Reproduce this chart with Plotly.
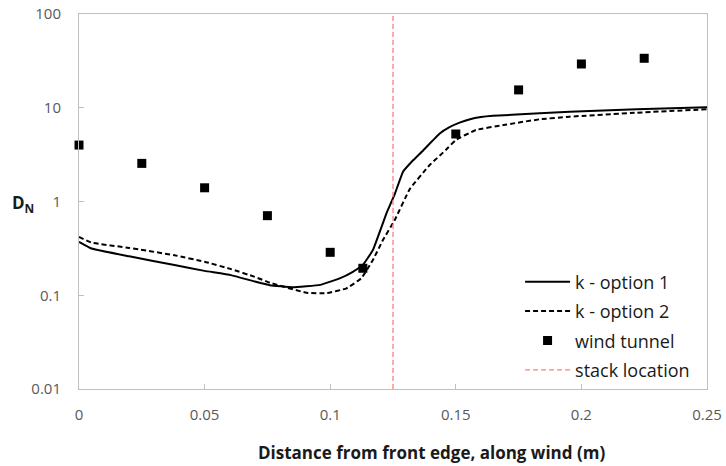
import plotly.graph_objects as go

# Data
x_opt1 = [0.0, 0.005, 0.02, 0.038, 0.05, 0.0605, 0.07, 0.076, 0.085, 0.096, 0.104, 0.109, 0.113, 0.117, 0.1224,
          0.1257, 0.129, 0.133, 0.137, 0.1436, 0.1475, 0.1515, 0.1557, 0.16, 0.1648, 0.1834, 0.1953, 0.222, 0.25]
y_opt1 = [0.372, 0.315, 0.26, 0.21, 0.182, 0.164, 0.14, 0.128, 0.1216, 0.129, 0.152, 0.178, 0.21, 0.304, 0.748,
          1.2, 2.08, 2.75, 3.5, 5.3, 6.2, 6.93, 7.55, 7.95, 8.2, 8.73, 9.08, 9.62, 10.1]

x_opt2 = [0.0, 0.005, 0.02, 0.038, 0.05, 0.0605, 0.07, 0.076, 0.0905, 0.0985, 0.1065, 0.1124, 0.117, 0.121,
          0.1257, 0.1317, 0.1396, 0.146, 0.15, 0.158, 0.169, 0.1834, 0.1953, 0.222, 0.25]
y_opt2 = [0.42, 0.364, 0.32, 0.267, 0.228, 0.19, 0.157, 0.136, 0.1064, 0.105, 0.1186, 0.152, 0.238, 0.388,
          0.635, 1.36, 2.45, 3.54, 4.53, 5.79, 6.55, 7.53, 8.03, 8.86, 9.62]

x_tunnel = [0.0, 0.025, 0.05, 0.075, 0.1, 0.113, 0.15, 0.175, 0.2, 0.225]
y_tunnel = [4.0, 2.55, 1.40, 0.706, 0.287, 0.194, 5.25, 15.5, 29.3, 33.7]

stack_x = [0.125, 0.125]
stack_y = [0.01, 100]

x_ticks = [0, 0.05, 0.1, 0.15, 0.2, 0.25]
x_ticktext = ["0", "0.05", "0.1", "0.15", "0.2", "0.25"]
y_ticks = [0.01, 0.1, 1, 10, 100]
y_ticktext = ["0.01", "0.1", "1", "10", "100"]

FONT = "'Open Sans', 'Noto Sans', sans-serif"
AX = "#BFBFBF"

fig = go.Figure()
fig.add_trace(go.Scatter(x=x_opt1, y=y_opt1, mode="lines", name="k - option 1",
                         legendgroup="a",
                         line=dict(color="black", width=2, shape="spline", smoothing=0.3)))
fig.add_trace(go.Scatter(x=x_opt2, y=y_opt2, mode="lines", name="k - option 2",
                         legendgroup="b",
                         line=dict(color="black", width=2, dash="5px,3px", shape="spline", smoothing=0.3)))
fig.add_trace(go.Scatter(x=x_tunnel, y=y_tunnel, mode="markers", name="wind tunnel",
                         legendgroup="c", cliponaxis=False,
                         marker=dict(symbol="square", size=9, color="black")))
fig.add_trace(go.Scatter(x=stack_x, y=stack_y, mode="lines", name="stack location",
                         legendgroup="d",
                         line=dict(color="#FF7F7F", width=1.3, dash="5px,3px")))

fig.update_layout(
    width=726, height=466,
    margin=dict(l=79, r=19, t=14, b=77, autoexpand=False),
    paper_bgcolor="white", plot_bgcolor="white",
    font=dict(family=FONT, size=15, color="#595959"),
    showlegend=True,
    legend=dict(x=0.981, xanchor="right", y=0.168, yanchor="middle",
                bgcolor="rgba(255,255,255,0)", traceorder="grouped",
                tracegroupgap=3, itemwidth=45,
                font=dict(family=FONT, size=18, color="#1a1a1a")),
    xaxis=dict(range=[0, 0.25], tickvals=x_ticks, ticktext=x_ticktext, automargin=False,
               showgrid=False, zeroline=False, showline=True, mirror=True,
               linecolor=AX, linewidth=1, ticks="inside", ticklen=5, tickcolor=AX,
               ticklabelstandoff=12, tickfont=dict(family=FONT, size=15, color="#595959")),
    yaxis=dict(type="log", range=[-2, 2], tickvals=y_ticks, ticktext=y_ticktext, automargin=False,
               showgrid=False, zeroline=False, showline=True, mirror=True,
               linecolor=AX, linewidth=1, ticks="inside", ticklen=5, tickcolor=AX,
               ticklabelstandoff=14, tickfont=dict(family=FONT, size=15, color="#595959")),
    annotations=[
        dict(text="<b>D<sub>N</sub></b>", xref="paper", yref="paper", x=-0.068, y=0.495,
             xanchor="right", yanchor="middle", showarrow=False,
             font=dict(family=FONT, size=17, color="#1a1a1a")),
        dict(text="<b>Distance from front edge, along wind (m)</b>", xref="paper", yref="paper",
             x=(431 - 79) / (707 - 79), y=-0.168, xanchor="center", yanchor="middle",
             showarrow=False, font=dict(family=FONT, size=17, color="#1a1a1a")),
    ],
)

fig.write_html("out.html", config={"displayModeBar": False},
               post_script="document.body.style.margin='0';")
